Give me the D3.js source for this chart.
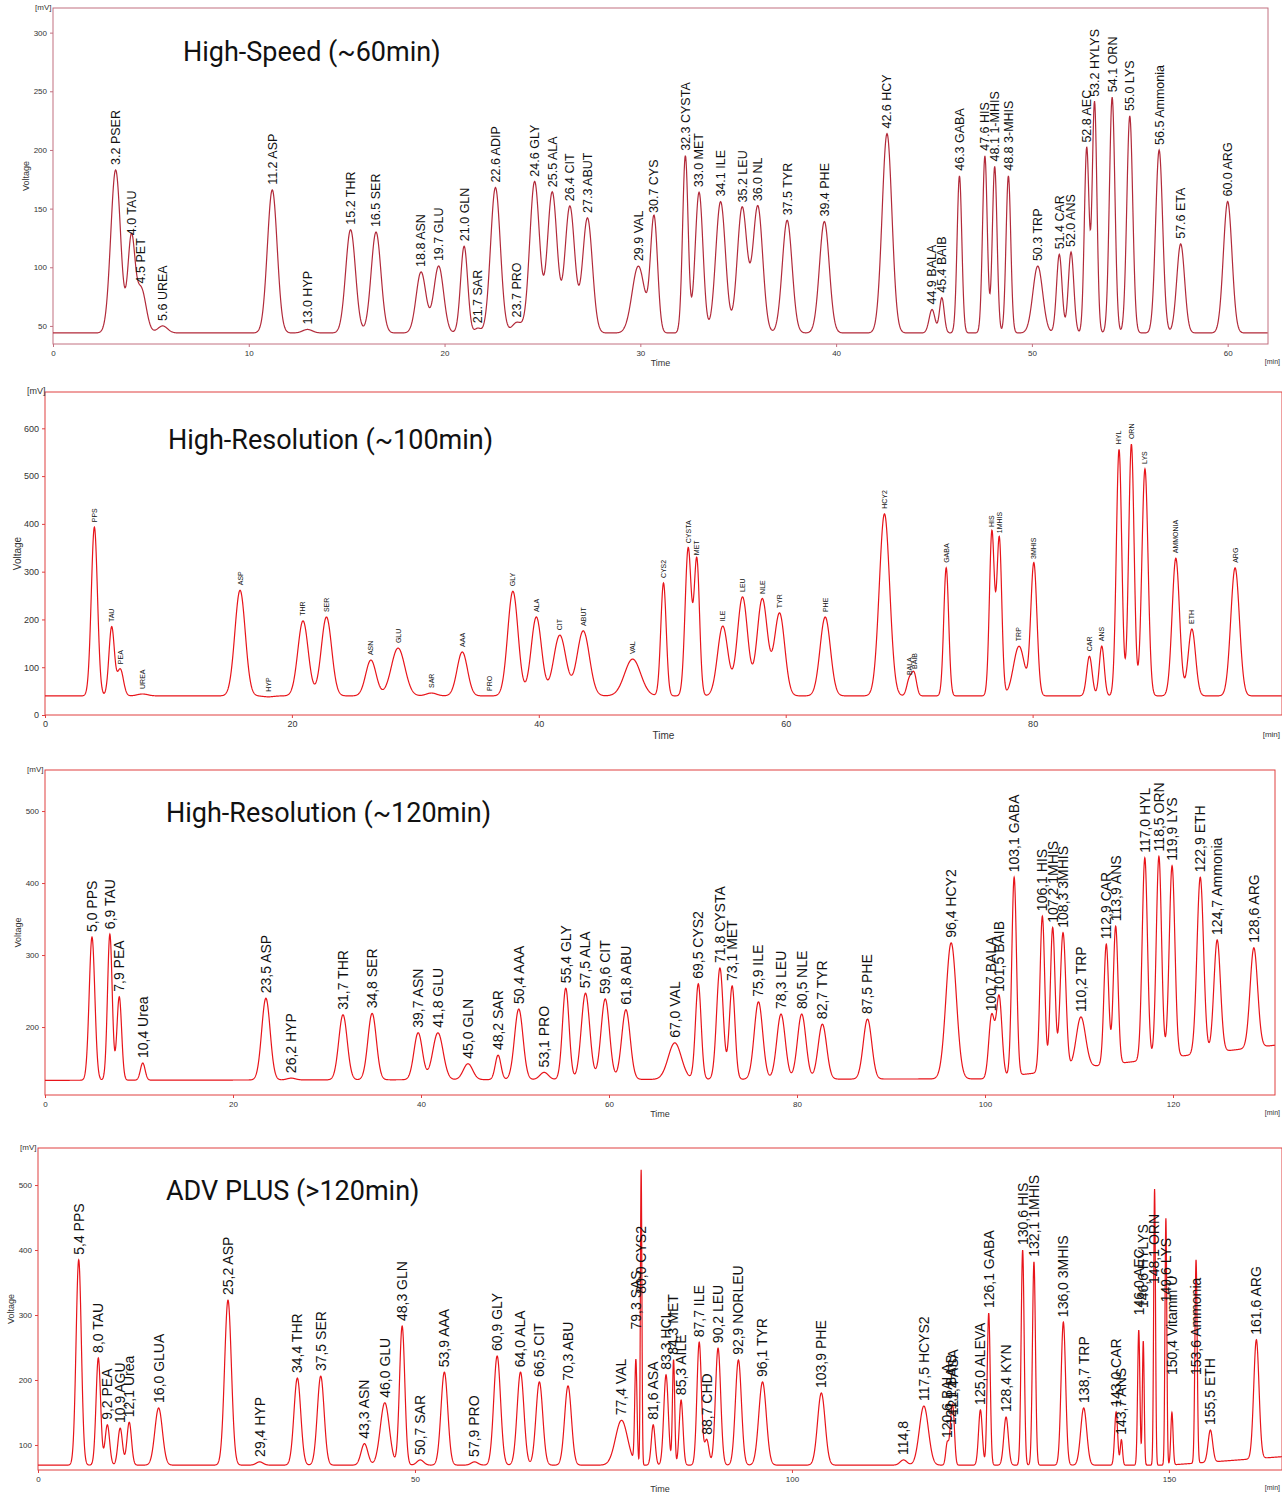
<!DOCTYPE html>
<html><head><meta charset="utf-8">
<script src="https://cdn.jsdelivr.net/npm/d3@7"></script>
<style>body{margin:0;background:#fff}svg{display:block}</style>
</head><body><svg id="c" width="1282" height="1494"></svg>
<script>
// peaks: [time (min), name, apex value, sigma (min, optional), label start value (optional)]
const peaks60 = [
  [3.2,'PSER',183],[4.0,'TAU',123,0.18],[4.5,'PET',82],[5.6,'UREA',50],[11.2,'ASP',166],[13.0,'HYP',47],
  [15.2,'THR',132],[16.5,'SER',130],[18.8,'ASN',96],[19.7,'GLU',101],[21.0,'GLN',118,0.18],[21.7,'SAR',48,0.15],
  [22.6,'ADIP',168],[23.7,'PRO',53],[24.6,'GLY',173],[25.5,'ALA',164],[26.4,'CIT',152],[27.3,'ABUT',142],
  [29.9,'VAL',101,0.32],[30.7,'CYS',142,0.18],[32.3,'CYSTA',195,0.14],[33.0,'MET',164,0.2],[34.1,'ILE',156],
  [35.2,'LEU',151],[36.0,'NL',152],[37.5,'TYR',140],[39.4,'PHE',139],[42.6,'HCY',214],[44.9,'BALA',64,0.15],
  [45.4,'BAIB',74,0.12],[46.3,'GABA',178,0.12],[47.6,'HIS',195,0.12],[48.1,'1-MHIS',186,0.12],[48.8,'3-MHIS',178,0.12],
  [50.3,'TRP',101],[51.4,'CAR',111,0.14],[52.0,'ANS',113,0.14],[52.8,'AEC',202,0.12],[53.2,'HYLYS',241,0.12],
  [54.1,'ORN',245,0.14],[55.0,'LYS',229,0.15],[56.5,'Ammonia',200,0.18],[57.6,'ETA',120,0.2],[60.0,'ARG',156,0.22]
];
const peaks100 = [
  [4.0,'PPS',393,0.25],[5.4,'TAU',184,0.22],[6.1,'PEA',96,0.25],[7.9,'UREA',44],[15.8,'ASP',261],[18.1,'HYP',38],
  [20.9,'THR',197],[22.8,'SER',205],[26.4,'ASN',115],[28.6,'GLU',140,0.55],[31.3,'SAR',46],[33.8,'AAA',132],
  [36.0,'PRO',40],[37.9,'GLY',259],[39.8,'ALA',205],[41.7,'CIT',167,0.5],[43.6,'ABUT',176,0.5],[47.6,'VAL',117,0.65],
  [50.1,'CYS2',276,0.22],[52.1,'CYSTA',349,0.25],[52.8,'MET',324,0.22],[54.9,'ILE',186],[56.5,'LEU',247],
  [58.1,'NLE',243],[59.5,'TYR',213],[63.2,'PHE',205],[68.0,'HCY2',421],[70.0,'BALA',73,0.2],[70.4,'BAIB',86,0.2],
  [73.0,'GABA',308,0.2],[76.7,'HIS',383,0.2],[77.3,'1MHIS',370,0.2],[78.9,'TRP',144,0.45],[80.1,'3MHIS',316,0.25],
  [84.6,'CAR',123,0.22],[85.6,'ANS',144,0.2],[87.0,'HYL',556,0.22],[88.0,'ORN',567,0.22],[89.1,'LYS',515,0.25],
  [91.6,'AMMONIA',328,0.3],[92.9,'ETH',180,0.3],[96.4,'ARG',308,0.35]
];
const peaks120 = [
  [5.0,'PPS',325,0.3],[6.9,'TAU',329,0.25],[7.9,'PEA',242,0.25],[10.4,'Urea',150,0.25],[23.5,'ASP',240],
  [26.2,'HYP',129],[31.7,'THR',217],[34.8,'SER',219],[39.7,'ASN',192],[41.8,'GLU',192,0.55],[45.0,'GLN',149,0.5],
  [48.2,'SAR',161,0.3],[50.4,'AAA',225],[53.1,'PRO',137],[55.4,'GLY',254,0.35],[57.5,'ALA',247],[59.6,'CIT',239],
  [61.8,'ABU',224],[67.0,'VAL',178,0.7],[69.5,'CYS2',260,0.3],[71.8,'CYSTA',282,0.35],[73.1,'MET',257,0.3],
  [75.9,'ILE',235],[78.3,'LEU',218],[80.5,'NLE',218],[82.7,'TYR',204],[87.5,'PHE',211],[96.4,'HCY2',317,0.55],
  [100.7,'BALA',215,0.3],[101.5,'BAIB',242,0.3],[103.1,'GABA',408,0.25],[106.1,'HIS',354,0.25],[107.2,'1MHIS',338,0.25],
  [108.3,'3MHIS',331,0.3],[110.2,'TRP',214,0.5],[112.9,'CAR',315,0.25],[113.9,'ANS',340,0.25],[117.0,'HYL',435,0.28],
  [118.5,'ORN',437,0.28],[119.9,'LYS',424,0.3],[122.9,'ETH',408,0.35],[124.7,'Ammonia',321,0.35],[128.6,'ARG',310,0.4]
];
const peaksAdv = [
  [5.4,'PPS',385,0.35],[8.0,'TAU',234,0.3],[9.2,'PEA',131,0.3],[10.9,'AGU',126,0.3],[12.1,'Urea',135,0.3],
  [16.0,'GLUA',157,0.5],[25.2,'ASP',323,0.45],[29.4,'HYP',74],[34.4,'THR',203],[37.5,'SER',206],[43.3,'ASN',102],
  [46.0,'GLU',165,0.6],[48.3,'GLN',283,0.35],[50.7,'SAR',77],[53.9,'AAA',212],[57.9,'PRO',74],[60.9,'GLY',237],
  [64.0,'ALA',212],[66.5,'CIT',197],[70.3,'ABU',191],[77.4,'VAL',138,0.8],[79.3,'SAS',228,0.15,270],[80.0,'CYS2',523,0.1,325],
  [81.6,'ASA',131,0.25],[83.3,'HCL',208,0.3],[84.3,'MET',231,0.15],[85.3,'AILE',169,0.25],[87.7,'ILE',258,0.3],
  [88.7,'CHD',108,0.3],[90.2,'LEU',249,0.35],[92.9,'NORLEU',231,0.4],[96.1,'TYR',197,0.5],[103.9,'PHE',180,0.5],
  [114.8,'',77],[117.5,'HCYS2',160,0.6],[120.6,'BALA',103,0.2],[121.1,'BAIB',123,0.2],[121.4,'ASA',138,0.2],
  [125.0,'ALEVA',154,0.25],[126.1,'GABA',303,0.2],[128.4,'KYN',143,0.3],[130.6,'HIS',400,0.2],[132.1,'1MHIS',382,0.2],
  [136.0,'3MHIS',289,0.3],[138.7,'TRP',157,0.4],[143.0,'CAR',151,0.2],[143.7,'ANS',108,0.15],[146.0,'AEC',277,0.15,292],
  [146.6,'HYLYS',260,0.12,303],[148.1,'ORN',494,0.12,340],[149.6,'LYS',449,0.12,312],[150.4,'Vitamin U',150,0.15,200],
  [153.6,'Ammonia',385,0.15,200],[155.5,'ETH',123,0.3],[161.6,'ARG',262,0.35]
];
// baselines: [time, value] knots
const base60 = [[0,44],[62,44]];
const base100 = [[0,40],[100,40]];
const base120 = [[0,126],[100,128],[131,175]];
const baseAdv = [[0,69],[150,69],[165,82]];

const svg = d3.select('#c');

function panel(cfg) {
  const x = d3.scaleLinear().domain(cfg.xDom).range([cfg.left, cfg.right]);
  const y = d3.scaleLinear().domain(cfg.yDom).range([cfg.bottom, cfg.top]);
  const base = d3.scaleLinear().domain(cfg.base.map(d => d[0])).range(cfg.base.map(d => d[1])).clamp(true);
  const g = svg.append('g').attr('font-family', 'Liberation Sans, Arial, sans-serif');
  g.append('rect').attr('x', cfg.left).attr('y', cfg.top).attr('width', cfg.right - cfg.left)
    .attr('height', cfg.bottom - cfg.top).attr('fill', 'none').attr('stroke', cfg.frame).attr('stroke-width', 1);
  g.append('g').attr('transform', `translate(0,${cfg.bottom})`)
    .call(d3.axisBottom(x).tickValues(cfg.xTicks).tickSize(3).tickFormat(d3.format('d')))
    .call(a => a.select('.domain').remove())
    .call(a => a.selectAll('text').attr('font-size', cfg.axFont).attr('fill', '#333'))
    .call(a => a.selectAll('line').attr('stroke', cfg.frame));
  g.append('g').attr('transform', `translate(${cfg.left},0)`)
    .call(d3.axisLeft(y).tickValues(cfg.yTicks).tickSize(3).tickFormat(d3.format('d')))
    .call(a => a.select('.domain').remove())
    .call(a => a.selectAll('text').attr('font-size', cfg.axFont).attr('fill', '#333'))
    .call(a => a.selectAll('line').attr('stroke', cfg.frame));
  g.append('text').attr('x', cfg.left - 18).attr('y', cfg.top + 2).attr('font-size', cfg.axFont)
    .attr('fill', '#333').text('[mV]');
  g.append('text').attr('transform', `translate(${cfg.left - 24},${(cfg.top + cfg.bottom) / 2}) rotate(-90)`)
    .attr('text-anchor', 'middle').attr('font-size', cfg.axFont + 1).attr('fill', '#333').text('Voltage');
  g.append('text').attr('x', (cfg.left + cfg.right) / 2).attr('y', cfg.bottom + cfg.axFont * 2 + 6)
    .attr('text-anchor', 'middle').attr('font-size', cfg.axFont + 1).attr('fill', '#333').text('Time');
  g.append('text').attr('x', 1280).attr('y', cfg.bottom + cfg.axFont * 2 + 4).attr('text-anchor', 'end')
    .attr('font-size', cfg.axFont - 1).attr('fill', '#333').text('[min]');
  g.append('text').attr('x', cfg.titleX).attr('y', cfg.titleY).attr('font-family', 'Roboto')
    .attr('font-size', 27).attr('fill', '#111').text(cfg.title);

  const ts = d3.range(cfg.xDom[0], cfg.xDom[1], 0.02);
  const sig = d => d[3] || cfg.sigma;
  const trace = ts.map(t => [t, base(t) + d3.sum(cfg.peaks, p =>
    (p[2] - base(p[0])) * Math.exp(-((t - p[0]) ** 2) / (2 * sig(p) ** 2)))]);
  g.append('path').datum(trace).attr('fill', 'none').attr('stroke', cfg.color).attr('stroke-width', 1.2)
    .attr('d', d3.line().x(d => x(d[0])).y(d => y(d[1])));

  g.selectAll('text.lab').data(cfg.peaks).join('text').attr('class', 'lab')
    .attr('transform', d => `translate(${x(d[0])},${y(d[4] || d[2]) - 5}) rotate(-90)`)
    .attr('dy', '0.35em').attr('font-size', cfg.labFont).attr('fill', '#111')
    .text(cfg.label);
}

const fmtC = d => (d[0].toFixed(1).replace('.', ',') + ' ' + d[1]).trim();
panel({ peaks: peaks60, base: base60, xDom: [0, 62.06], yDom: [34.6, 321], left: 53, right: 1268, top: 8, bottom: 344,
  xTicks: [0, 10, 20, 30, 40, 50, 60], yTicks: [50, 100, 150, 200, 250, 300], sigma: 0.25, color: '#b22a3a',
  frame: '#c27080', axFont: 8, labFont: 12.5, title: 'High-Speed (~60min)', titleX: 183, titleY: 61,
  label: d => d[0].toFixed(1) + ' ' + d[1] });
panel({ peaks: peaks100, base: base100, xDom: [0, 100.2], yDom: [0, 676], left: 45, right: 1282, top: 392, bottom: 715,
  xTicks: [0, 20, 40, 60, 80], yTicks: [0, 100, 200, 300, 400, 500, 600], sigma: 0.42, color: '#e8141a',
  frame: '#e04040', axFont: 9, labFont: 7, title: 'High-Resolution (~100min)', titleX: 168, titleY: 449,
  label: d => d[1] });
panel({ peaks: peaks120, base: base120, xDom: [0, 130.85], yDom: [105.6, 557], left: 45, right: 1275, top: 770, bottom: 1095,
  xTicks: [0, 20, 40, 60, 80, 100, 120], yTicks: [200, 300, 400, 500], sigma: 0.45, color: '#e8141a',
  frame: '#e04040', axFont: 8, labFont: 14, title: 'High-Resolution (~120min)', titleX: 166, titleY: 822, label: fmtC });
panel({ peaks: peaksAdv, base: baseAdv, xDom: [0, 165], yDom: [61.5, 557], left: 38, right: 1282, top: 1148, bottom: 1470,
  xTicks: [0, 50, 100, 150], yTicks: [100, 200, 300, 400, 500], sigma: 0.45, color: '#e8141a',
  frame: '#e04040', axFont: 8, labFont: 14, title: 'ADV PLUS (>120min)', titleX: 166, titleY: 1200, label: fmtC });
</script></body></html>
